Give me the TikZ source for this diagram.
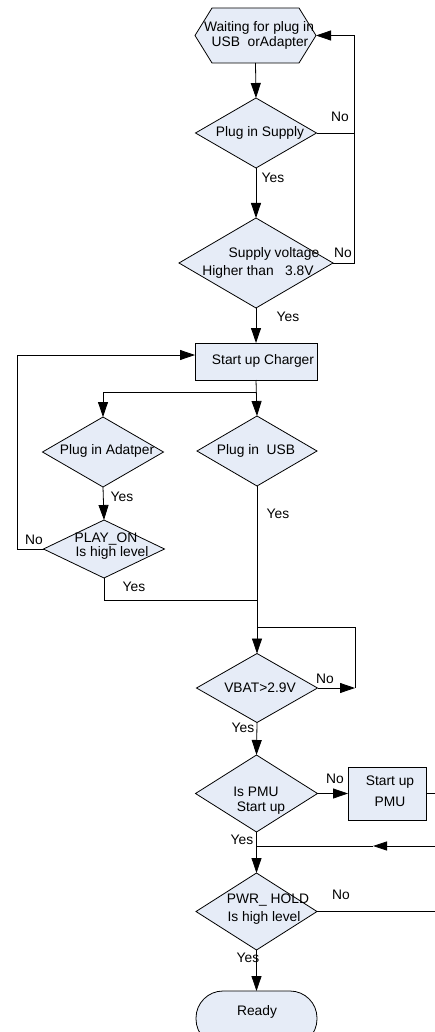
\documentclass[tikz,border=0pt]{standalone}
\usepackage{fontspec}
\setmainfont{Liberation Sans}
\usetikzlibrary{arrows.meta,shapes.geometric}
\definecolor{fillc}{RGB}{230,236,247}
\begin{document}
\begin{tikzpicture}[x=1pt,y=-1pt,
  ln/.style={line width=0.8pt,draw=black},
  arr/.style={ln,-{Triangle[length=15pt,width=10pt]}},
  dec/.style={diamond,draw,fill=fillc,line width=0.8pt,inner sep=0pt,outer sep=0pt},
  proc/.style={rectangle,draw,fill=fillc,line width=0.8pt,inner sep=0pt,outer sep=0pt},
  anchorbox/.style={rectangle,inner sep=0pt,outer sep=0pt},
  lbl/.style={font=\fontsize{13.8}{16}\selectfont,inner sep=0pt,align=center},
]
\useasboundingbox (0,0) rectangle (435,1032);

% ---- shapes ----
\node[anchorbox,minimum width=121pt,minimum height=55pt] (hex) at (255.5,35.5) {};
\draw[ln,fill=fillc] (hex.west) -- ([xshift=17pt]hex.north west) -- ([xshift=-17pt]hex.north east)
  -- (hex.east) -- ([xshift=-17pt]hex.south east) -- ([xshift=17pt]hex.south west) -- cycle;
\node[dec,minimum width=121pt,minimum height=70pt] (d1) at (256,133) {};
\node[dec,minimum width=154pt,minimum height=90pt] (d2) at (256,263) {};
\node[proc,minimum width=122pt,minimum height=37pt] (chg) at (256,361.5) {};
\node[dec,minimum width=121pt,minimum height=70pt] (dA) at (103,452) {};
\node[dec,minimum width=120pt,minimum height=70pt] (dU) at (257,451) {};
\node[dec,minimum width=121pt,minimum height=58pt] (dP) at (104,549) {};
\node[dec,minimum width=121pt,minimum height=69pt] (dV) at (257,688) {};
\node[dec,minimum width=122pt,minimum height=77pt] (dM) at (256.5,793.5) {};
\node[proc,minimum width=78pt,minimum height=53pt] (pmu) at (387,793.5) {};
\node[dec,minimum width=121pt,minimum height=77pt] (dH) at (256.5,911.5) {};
\node[proc,rounded corners=27pt,minimum width=121pt,minimum height=55pt] (rdy) at (256.5,1018.5) {};

% ---- texts ----
\node[lbl] (t1a) at (259,28) {Waiting for plug in};
\node[lbl] (t1b) at (260,43) {USB\ \ orAdapter};
\node[lbl] (t2) at (260,133) {Plug in Supply};
\node[lbl] (t3a) at (274,254) {Supply voltage};
\node[lbl] (t3b) at (258,272) {Higher than\ \ \ 3.8V};
\node[lbl] (t4) at (263,361) {Start up Charger};
\node[lbl] (t5) at (107,451) {Plug in Adatper};
\node[lbl] (t6) at (256,451) {Plug in\ \ USB};
\node[lbl] (t7a) at (106,539) {PLAY\_ON};
\node[lbl] (t7b) at (112,553) {Is high level};
\node[lbl] (t8) at (260,688) {VBAT>2.9V};
\node[lbl] (t9a) at (256,792) {Is PMU};
\node[lbl] (t9b) at (261,808) {Start up};
\node[lbl] (t10a) at (390,782) {Start up};
\node[lbl] (t10b) at (390,802) {PMU};
\node[lbl] (t11a) at (268,900) {PWR\_ HOLD};
\node[lbl] (t11b) at (264,918) {Is high level};
\node[lbl] (t12) at (257,1012) {Ready};

% ---- junction coordinates ----
\coordinate (rTop) at (354,35.5);
\coordinate (rD1) at (354,133);
\coordinate (rD2) at (354,263);
\coordinate (split) at (256,392);
\coordinate (splitL) at (103,392);
\coordinate (lBot) at (17,549);
\coordinate (lTop) at (17,355);
\coordinate (jY) at (257,600);
\coordinate (jV) at (257,627);
\coordinate (vR) at (355,688);
\coordinate (vRT) at (355,627);
\coordinate (offA) at (440,793.5);
\coordinate (offB) at (440,846);
\coordinate (midB) at (373,846);
\coordinate (jH) at (256.5,846);
\coordinate (offC) at (440,911.5);

% ---- connectors ----
\draw[arr] (hex.south) -- (d1.north);
\draw[arr] (d1.south) -- (d2.north);
\draw[ln] (d1.east) -- (rD1);
\draw[ln] (d2.east) -- (rD2) -- (rD1);
\draw[arr] (rD1) -- (rTop) -- (hex.east);
\draw[arr] (d2.south) -- (chg.north);
\draw[arr] (chg.south) -- (dU.north);
\draw[arr] (split) -- (splitL) -- (dA.north);
\draw[arr] (dA.south) -- (dP.north);
\draw[arr] (dP.west) -- (lBot) -- (lTop) -- (lTop -| chg.west);
\draw[ln] (dP.south) |- (jY);
\draw[ln] (dU.south) -- (jV);
\draw[arr] (jV) -- (dV.north);
\draw[arr] (dV.east) -- (vR);
\draw[ln] (vR) -- (vRT) -- (jV);
\draw[arr] (dV.south) -- (dM.north);
\draw[arr] (dM.east) -- (pmu.west);
\draw[ln] (pmu.east) -- (offA);
\draw[ln,-{Triangle[length=14pt,width=9pt]}] (offB) -- (midB);
\draw[ln] (midB) -- (jH);
\draw[arr] (dM.south) -- (dH.north);
\draw[ln] (dH.east) -- (offC);
\draw[arr] (dH.south) -- (rdy.north);

% ---- connector labels ----
\node[lbl] (n1) at (340,117) {No};
\node[lbl] (y1) at (273,178) {Yes};
\node[lbl] (n2) at (343,253) {No};
\node[lbl] (y2) at (288,317) {Yes};
\node[lbl] (y3) at (122,497) {Yes};
\node[lbl] (y4) at (278,514) {Yes};
\node[lbl] (n3) at (34,540) {No};
\node[lbl] (y5) at (134,587) {Yes};
\node[lbl] (n4) at (325,679) {No};
\node[lbl] (y6) at (243,728) {Yes};
\node[lbl] (n5) at (335,779) {No};
\node[lbl] (y7) at (242,840) {Yes};
\node[lbl] (n6) at (341,895) {No};
\node[lbl] (y8) at (248,958) {Yes};
\end{tikzpicture}
\end{document}
